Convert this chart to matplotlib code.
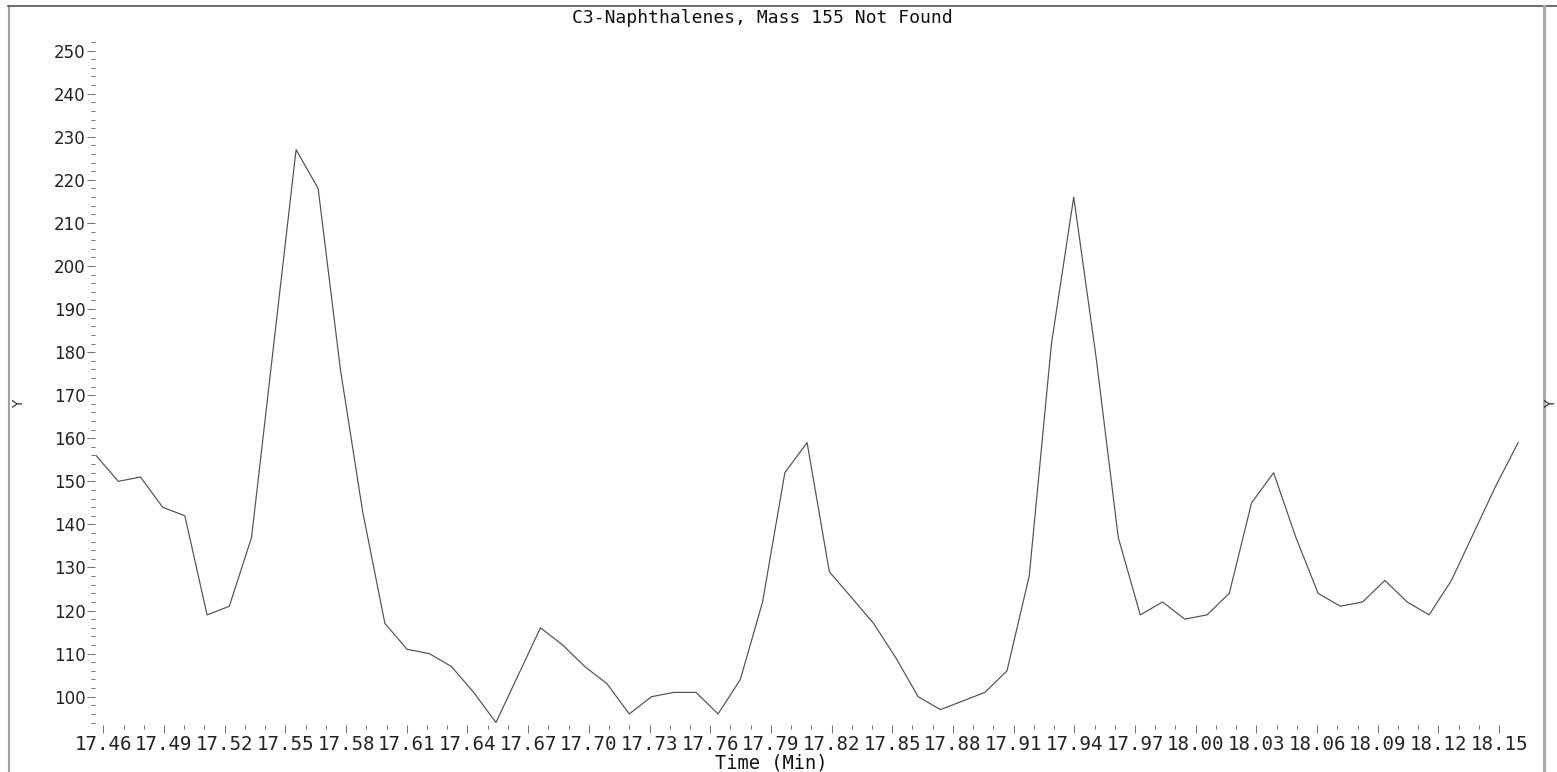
import matplotlib
matplotlib.use("Agg")
import matplotlib.pyplot as plt
from matplotlib.lines import Line2D
from matplotlib.ticker import FixedLocator, FixedFormatter

# ---- data ----
times = [17.4564, 17.4674, 17.4784, 17.4893, 17.5003, 17.5113, 17.5223, 17.5333,
         17.5443, 17.5553, 17.5662, 17.5772, 17.5882, 17.5992, 17.6102, 17.6212,
         17.6321, 17.6431, 17.6541, 17.6651, 17.6761, 17.6871, 17.6980, 17.7090,
         17.7200, 17.7310, 17.7420, 17.7530, 17.7639, 17.7749, 17.7859, 17.7969,
         17.8079, 17.8189, 17.8299, 17.8408, 17.8518, 17.8628, 17.8738, 17.8848,
         17.8958, 17.9067, 17.9177, 17.9287, 17.9397, 17.9507, 17.9617, 17.9726,
         17.9836, 17.9946, 18.0056, 18.0166, 18.0276, 18.0385, 18.0495, 18.0605,
         18.0715, 18.0825, 18.0935, 18.1045, 18.1154, 18.1264, 18.1374, 18.1484,
         18.1594]
intensity = [156, 150, 151, 144, 142, 119, 121, 137,
             182, 227, 218, 176, 143, 117, 111, 110,
             107, 101, 94, 105, 116, 112, 107, 103,
             96, 100, 101, 101, 96, 104, 122, 152,
             159, 129, 123, 117, 109, 100, 97, 99,
             101, 106, 128, 182, 216, 179, 137, 119,
             122, 118, 119, 124, 145, 152, 137, 124,
             121, 122, 127, 122, 119, 127, 138, 149,
             159]
x_tick_values = [17.46, 17.49, 17.52, 17.55, 17.58, 17.61, 17.64, 17.67, 17.70,
                 17.73, 17.76, 17.79, 17.82, 17.85, 17.88, 17.91, 17.94, 17.97,
                 18.00, 18.03, 18.06, 18.09, 18.12, 18.15]
x_tick_labels = ["17.46", "17.49", "17.52", "17.55", "17.58", "17.61", "17.64",
                 "17.67", "17.70", "17.73", "17.76", "17.79", "17.82", "17.85",
                 "17.88", "17.91", "17.94", "17.97", "18.00", "18.03", "18.06",
                 "18.09", "18.12", "18.15"]
y_tick_values = [100, 110, 120, 130, 140, 150, 160, 170, 180, 190, 200, 210, 220,
                 230, 240, 250]
title_text = "C3-Naphthalenes, Mass 155 Not Found"
x_label = "Time (Min)"
y_label = "Y"

W, H = 1557, 772
fig = plt.figure(figsize=(W / 100, H / 100), dpi=100)
fig.patch.set_facecolor("white")

# axes placement in pixels
L, R, B, T = 95, 1520, 725, 42
ax = fig.add_axes([L / W, (H - B) / H, (R - L) / W, (B - T) / H])
ax.set_facecolor("white")

ax.plot(times, intensity, color="#505050", lw=0.85)

ax.set_xlim(17.4559, 18.1603)
ax.set_ylim(93.43, 252.0)

for s in ax.spines.values():
    s.set_visible(False)

ax.xaxis.set_major_locator(FixedLocator(x_tick_values))
ax.xaxis.set_major_formatter(FixedFormatter(x_tick_labels))
minor_x = [v / 100 for v in range(1746, 1816)]
ax.xaxis.set_minor_locator(FixedLocator(minor_x))
ax.yaxis.set_major_locator(FixedLocator(y_tick_values))
ax.yaxis.set_minor_locator(FixedLocator(list(range(94, 253, 2))))

ax.tick_params(axis="both", which="major", length=6, width=0.75, color="#777777",
               direction="out")
ax.tick_params(axis="both", which="minor", length=3, width=0.75, color="#777777",
               direction="out")
ax.tick_params(axis="x", which="major", pad=1.5)
ax.tick_params(axis="y", which="major", pad=0.8)

for lab in ax.get_xticklabels():
    lab.set_fontfamily("DejaVu Sans Mono")
    lab.set_fontsize(13.8)
    lab.set_color("#222222")
for lab in ax.get_yticklabels():
    lab.set_fontfamily("DejaVu Sans")
    lab.set_fontsize(12)
    lab.set_color("#222222")

# title and labels
fig.text(762 / W, 1 - 18 / H, title_text, ha="center", va="center",
         fontfamily="DejaVu Sans Mono", fontsize=13, color="#111111")
fig.text(771 / W, 1 - 763 / H, x_label, ha="center", va="center",
         fontfamily="DejaVu Sans Mono", fontsize=13.5, color="#111111")
fig.text(19 / W, 1 - 404 / H, y_label, ha="center", va="center", rotation=90,
         fontfamily="DejaVu Sans", fontsize=10, color="#333333")
fig.text(1551 / W, 1 - 404 / H, y_label, ha="center", va="center", rotation=90,
         fontfamily="DejaVu Sans", fontsize=10, color="#333333")

# frame lines
fig.add_artist(Line2D([8.5 / W, 8.5 / W], [0, 1 - 6 / H], transform=fig.transFigure,
                      color="#a0a0a0", lw=1.5))
fig.add_artist(Line2D([8 / W, 1.0], [1 - 6 / H, 1 - 6 / H], transform=fig.transFigure,
                      color="#555555", lw=1.2))
fig.add_artist(Line2D([1544 / W, 1544 / W], [0, 1 - 6 / H], transform=fig.transFigure,
                      color="#aaaaaa", lw=2.3))

fig.savefig("out.png", dpi=100, facecolor="white")
